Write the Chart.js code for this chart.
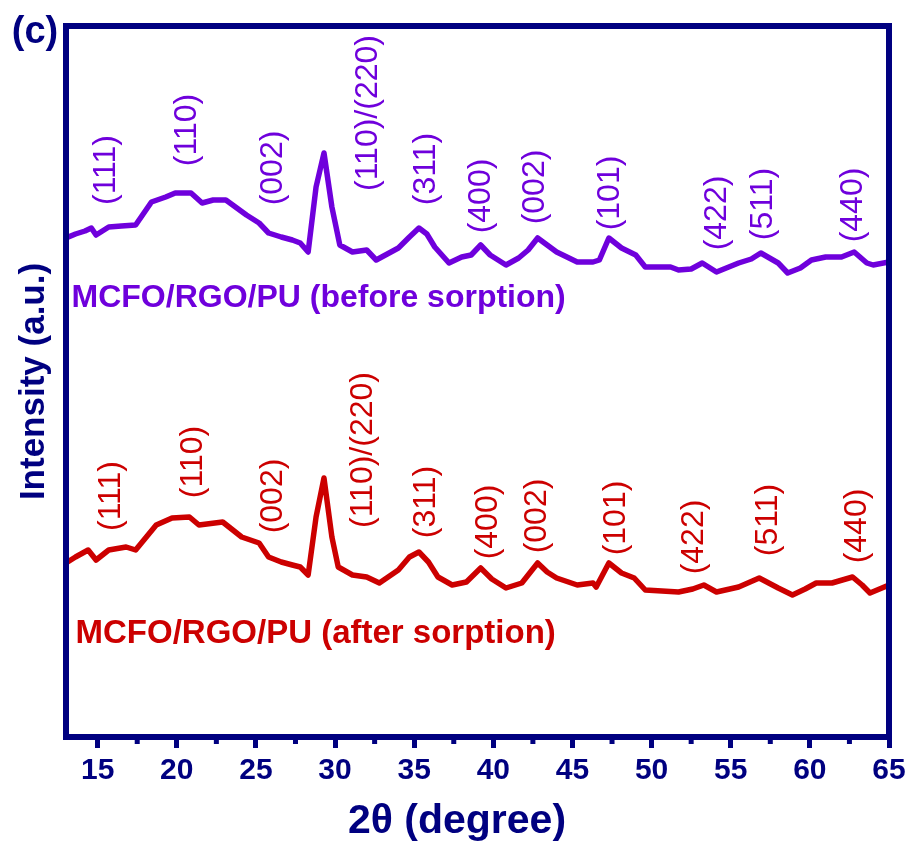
<!DOCTYPE html>
<html>
<head>
<meta charset="utf-8">
<script src="https://cdn.jsdelivr.net/npm/chart.js@4/dist/chart.umd.min.js"></script>
<style>
  html, body { margin: 0; padding: 0; background: #ffffff; overflow: hidden; }
  #c { display: block; }
</style>
</head>
<body>
<canvas id="c" width="911" height="843"></canvas>
<script>
// ---- data (2θ in degrees, intensity in arbitrary units) ----
const beforeTheta = [13.0,13.6,14.2,14.6,14.9,15.7,16.5,17.4,18.4,19.3,19.9,20.9,21.6,22.3,23.1,24.4,25.2,25.8,26.6,27.3,27.8,28.3,28.8,29.3,29.8,30.3,31.1,32.0,32.6,33.3,34.0,34.7,35.3,35.8,36.3,37.2,38.0,38.6,39.2,39.8,40.8,41.6,42.2,42.8,43.4,44.0,45.3,46.3,46.7,47.3,48.1,49.0,49.6,51.2,51.7,52.5,53.2,54.1,55.5,56.3,56.9,58.0,58.6,59.4,60.1,61.0,62.0,62.8,63.6,64.0,65.0];
const beforeIntensity = [499,503,506,509,502,510,511,512,535,540,544,544,534,537,537,522,514,504,500,497,494,485,550,584,530,492,485,487,477,483,489,500,509,503,490,474,480,482,492,482,472,479,487,499,492,485,475,475,477,499,489,482,470,470,467,468,474,465,474,478,484,474,464,469,477,480,480,485,474,472,475];

const afterTheta = [13.0,13.6,14.4,14.9,15.7,16.8,17.4,18.7,19.7,20.8,21.4,22.9,24.1,25.2,25.8,26.6,27.3,27.8,28.3,28.8,29.3,29.8,30.2,31.1,32.0,32.8,34.0,34.7,35.3,35.9,36.5,37.4,38.3,39.2,39.9,40.8,41.8,42.8,43.4,44.0,45.3,46.3,46.5,47.3,48.1,48.9,49.6,51.7,52.6,53.3,54.1,55.5,56.8,58.0,58.9,59.7,60.4,61.4,62.7,63.3,63.8,65.0];
const afterIntensity = [174,180,187,177,187,190,187,212,219,220,212,215,200,194,180,175,172,170,162,220,259,200,170,162,160,154,167,180,185,175,160,152,155,169,158,149,154,174,165,159,152,154,150,174,164,159,147,145,148,152,145,150,159,149,142,148,154,154,160,152,144,152];

const majorTicks = [15,20,25,30,35,40,45,50,55,60,65];

// peak (hkl) annotations: label text, 2θ, intensity anchor
const peakLabels = ['(111)','(110)','(002)','(110)/(220)','(311)','(400)','(002)','(101)','(422)','(511)','(440)'];
const beforeLabelTheta = [15.5,20.6,26.0,32.0,35.7,39.2,42.6,47.3,54.1,57.0,62.7];
const beforeLabelY     = [567,607,569,624,568,541,550,544,524,533,532];
const afterLabelTheta  = [15.8,21.0,26.0,31.7,35.7,39.6,42.7,47.7,52.6,57.3,62.9];
const afterLabelY      = [241,275,241,287,235,215,221,219,200,217,211];

const seriesNames = ['MCFO/RGO/PU (before sorption)','MCFO/RGO/PU (after sorption)'];
const seriesNameTheta = [13.35,13.6];
const seriesNameY = [439,103];

const PURPLE = '#6F00DC';
const RED = '#CC0000';
const NAVY = '#000080';
const FONT = "'Liberation Sans', Arial, sans-serif";

const toXY = (xs, ys) => xs.map((x, i) => ({x: x, y: ys[i]}));

const decor = {
  id: 'decor',
  afterDatasetsDraw(chart) {
    const {ctx, chartArea: a, scales: {x, y}} = chart;
    ctx.save();
    ctx.font = '32px ' + FONT;
    ctx.textAlign = 'center';
    ctx.textBaseline = 'middle';
    const drawSet = (thetas, ys, color) => {
      ctx.fillStyle = color;
      peakLabels.forEach((t, i) => {
        ctx.save();
        ctx.translate(x.getPixelForValue(thetas[i]), y.getPixelForValue(ys[i]));
        ctx.rotate(-Math.PI / 2);
        ctx.fillText(t, 0, 1);
        ctx.restore();
      });
    };
    drawSet(beforeLabelTheta, beforeLabelY, PURPLE);
    drawSet(afterLabelTheta, afterLabelY, RED);
    ctx.textAlign = 'left';
    ctx.font = 'bold 32px ' + FONT;
    ctx.fillStyle = PURPLE;
    ctx.fillText(seriesNames[0], x.getPixelForValue(seriesNameTheta[0]), y.getPixelForValue(seriesNameY[0]));
    ctx.font = 'bold 33px ' + FONT;
    ctx.fillStyle = RED;
    ctx.fillText(seriesNames[1], x.getPixelForValue(seriesNameTheta[1]), y.getPixelForValue(seriesNameY[1]));
    ctx.strokeStyle = NAVY;
    ctx.lineWidth = 6;
    ctx.lineJoin = 'miter';
    ctx.strokeRect(a.left, a.top, a.right - a.left, a.bottom - a.top);
    ctx.lineWidth = 5;
    ctx.beginPath();
    for (let i = 0; i < majorTicks.length - 1; i++) {
      const px = x.getPixelForValue((majorTicks[i] + majorTicks[i + 1]) / 2);
      ctx.moveTo(px, a.bottom);
      ctx.lineTo(px, a.bottom + 7);
    }
    ctx.stroke();
    ctx.fillStyle = NAVY;
    ctx.font = 'bold 41px ' + FONT;
    ctx.textAlign = 'center';
    ctx.textBaseline = 'middle';
    ctx.fillText('2θ (degree)', 457, 822);
    ctx.font = 'bold 38px ' + FONT;
    ctx.fillText('(c)', 35, 33);
    ctx.restore();
  }
};

new Chart(document.getElementById('c'), {
  type: 'line',
  data: {
    datasets: [
      { label: seriesNames[0], data: toXY(beforeTheta, beforeIntensity), borderColor: PURPLE, borderWidth: 5.5, pointRadius: 0, tension: 0, fill: false, borderJoinStyle: 'round' },
      { label: seriesNames[1], data: toXY(afterTheta, afterIntensity), borderColor: RED, borderWidth: 5.5, pointRadius: 0, tension: 0, fill: false, borderJoinStyle: 'round' }
    ]
  },
  options: {
    responsive: false,
    animation: false,
    devicePixelRatio: 1,
    layout: { padding: { top: 26, right: 22, left: 0, bottom: 0 } },
    plugins: { legend: { display: false }, tooltip: { enabled: false } },
    scales: {
      x: {
        type: 'linear',
        min: 13, max: 65,
        afterBuildTicks: (s) => { s.ticks = majorTicks.map(v => ({value: v})); },
        afterFit: (s) => { s.height = 106; },
        border: { display: false },
        grid: { display: true, drawOnChartArea: false, drawTicks: true, tickLength: 11, tickColor: NAVY, tickWidth: 5 },
        ticks: { color: NAVY, font: { family: FONT, size: 30, weight: 'bold' }, padding: 5, maxRotation: 0, autoSkip: false },
        title: { display: false }
      },
      y: {
        min: 0, max: 711,
        afterFit: (s) => { s.width = 66; },
        border: { display: false },
        grid: { display: false },
        ticks: { display: false },
        title: { display: true, text: 'Intensity (a.u.)', color: NAVY, font: { family: FONT, size: 35, weight: 'bold', lineHeight: 1.2 }, padding: { top: 13, bottom: 0 } }
      }
    }
  },
  plugins: [decor]
});
</script>
</body>
</html>
